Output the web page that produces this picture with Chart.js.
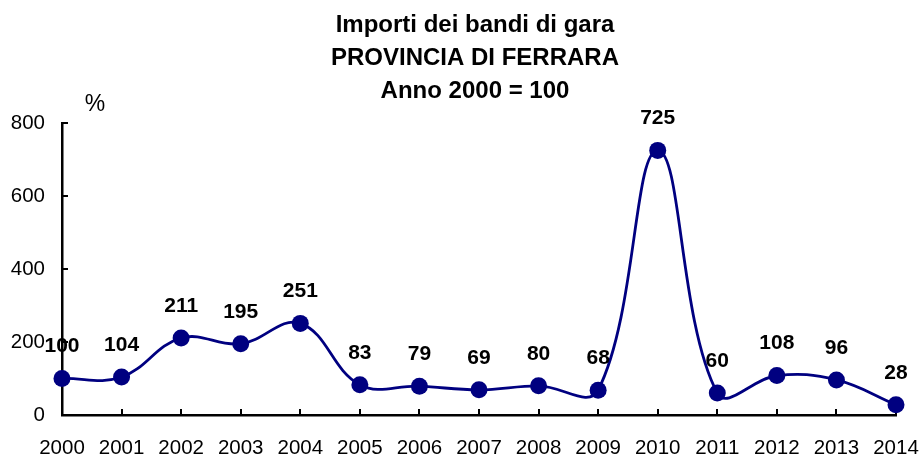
<!DOCTYPE html>
<html><head><meta charset="utf-8">
<script src="https://cdn.jsdelivr.net/npm/chart.js@4"></script>
<style>html,body{margin:0;padding:0;background:#fff}#wrap{width:922px;height:456px}</style>
</head><body><div id="wrap"><canvas id="c" width="922" height="456"></canvas></div>
<script>
const titleLines = ['Importi dei bandi di gara', 'PROVINCIA DI FERRARA', 'Anno 2000 = 100'];
const years = ['2000','2001','2002','2003','2004','2005','2006','2007','2008','2009','2010','2011','2012','2013','2014'];
const values = [100, 104, 211, 195, 251, 83, 79, 69, 80, 68, 725, 60, 108, 96, 28];
const yTicks = [0, 200, 400, 600, 800];
const yUnit = '%';

const FONT = "'Liberation Sans', Arial, sans-serif";
const NAVY = '#000080';

const decorPlugin = {
  id: 'decor',
  beforeDatasetsDraw(chart) {
    const ctx = chart.ctx;
    const xs = chart.scales.x, ys = chart.scales.y;
    const ca = chart.chartArea;
    ctx.save();
    ctx.strokeStyle = '#000';
    ctx.lineWidth = 2;
    ctx.beginPath();
    yTicks.forEach(v => {
      if (v === yTicks[0]) return;
      const py = Math.round(ys.getPixelForValue(v));
      ctx.moveTo(ca.left, py);
      ctx.lineTo(ca.left + 6, py);
    });
    years.forEach((y, i) => {
      if (i === 0) return;
      const px = Math.round(xs.getPixelForValue(i));
      ctx.moveTo(px, ca.bottom);
      ctx.lineTo(px, ca.bottom - 6);
    });
    ctx.stroke();
    ctx.restore();
  },
  afterDatasetsDraw(chart) {
    const ctx = chart.ctx;
    const meta = chart.getDatasetMeta(0);
    ctx.save();
    ctx.fillStyle = '#000';
    ctx.textAlign = 'center';
    ctx.textBaseline = 'middle';
    ctx.font = 'bold 21px ' + FONT;
    meta.data.forEach((pt, i) => {
      ctx.fillText(String(values[i]), pt.x, pt.y - 32);
    });
    ctx.restore();
  },
  afterDraw(chart) {
    const ctx = chart.ctx;
    ctx.save();
    ctx.fillStyle = '#000';
    ctx.textAlign = 'center';
    ctx.textBaseline = 'alphabetic';
    ctx.font = 'bold 24px ' + FONT;
    const baselines = [32, 65, 98];
    titleLines.forEach((t, i) => ctx.fillText(t, 475, baselines[i]));
    ctx.font = '23px ' + FONT;
    ctx.fillText(yUnit, 95, 111);
    ctx.restore();
  }
};

new Chart(document.getElementById('c'), {
  type: 'line',
  data: {
    labels: years,
    datasets: [{
      data: values,
      borderColor: NAVY,
      backgroundColor: NAVY,
      borderWidth: 2.8,
      pointRadius: 8.5,
      pointBorderWidth: 0,
      pointBackgroundColor: NAVY,
      tension: 0.4,
      fill: false,
      clip: false
    }]
  },
  options: {
    responsive: false,
    animation: false,
    devicePixelRatio: 1,
    layout: { padding: { top: 123, right: 26, left: 0, bottom: 0 } },
    plugins: { legend: { display: false }, title: { display: false }, tooltip: { enabled: false } },
    scales: {
      x: {
        type: 'category',
        offset: false,
        grid: { display: false, drawTicks: false },
        border: { display: true, color: '#000', width: 2.5 },
        ticks: { color: '#000', font: { family: FONT, size: 20.5 }, padding: 21, maxRotation: 0, autoSkip: false },
        afterFit: s => { s.height = 41; s.paddingLeft = 0; s.paddingRight = 0; }
      },
      y: {
        min: 0, max: 800,
        grid: { display: false, drawTicks: false },
        border: { display: true, color: '#000', width: 2.5 },
        afterBuildTicks: s => { s.ticks = yTicks.map(v => ({ value: v })); },
        ticks: { color: '#000', font: { family: FONT, size: 20.5 }, padding: 17 },
        afterFit: s => { s.width = 62; s.paddingTop = 0; s.paddingBottom = 0; }
      }
    }
  },
  plugins: [decorPlugin]
});
</script>
</body></html>
